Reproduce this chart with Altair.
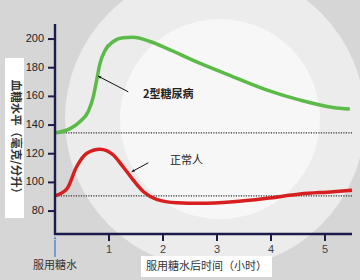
import altair as alt
import pandas as pd

# ---- data ----
green_t = [0, 0.28, 0.46, 0.62, 0.71, 0.77, 0.83, 0.93, 1.08, 1.26, 1.44, 1.76, 2.07, 2.69, 3.30, 3.93, 4.54, 5.15, 5.46]
green_v = [134.4, 137.5, 142.3, 149.8, 159.8, 171.0, 182.5, 192.3, 198.3, 200.9, 201.2, 198.3, 193.5, 183.0, 173.7, 164.4, 157.4, 152.3, 151.2]

red_t = [0, 0.22, 0.40, 0.59, 0.83, 1.08, 1.26, 1.45, 1.64, 1.88, 2.25, 2.69, 3.30, 3.92, 4.54, 5.15, 5.5]
red_v = [90.7, 95.5, 110.9, 120.3, 123.1, 119.1, 110.9, 101.6, 93.5, 88.2, 85.8, 85.4, 86.5, 88.9, 91.9, 93.5, 94.6]

baseline_values = [134.5, 90.6]
y_ticks = [80, 100, 120, 140, 160, 180, 200]
x_ticks = [1, 2, 3, 4, 5]

y_title = "血糖水平（毫克/分升）"
x_title = "服用糖水后时间（小时）"
x_start_label = "服用糖水"
label_diabetes = "2型糖尿病"
label_normal = "正常人"

# annotation anchors (data coordinates)
arrow_t = [1.357, 1.728]
arrow_v = [163.2, 113.7]
tip_t = [0.80, 1.42]
tip_v = [174.1, 107.4]
tip_angle = [297.6, 241.5]
ann_t = [1.63, 2.13]
ann_v = [160.9, 114.9]

# ---- build tables ----
green = pd.DataFrame({"t": green_t, "v": green_v})
red = pd.DataFrame({"t": red_t, "v": red_v})
base_df = pd.DataFrame({"v": baseline_values})
arrows = pd.DataFrame({"t": arrow_t, "v": arrow_v, "t2": tip_t, "v2": tip_v, "ang": tip_angle})
ytick_df = pd.DataFrame({"v": y_ticks})
xtick_df = pd.DataFrame({"t": x_ticks})

W, H = 297, 210
xs = alt.Scale(domain=[0, 5.5], nice=False, zero=False)
ys = alt.Scale(domain=[64, 210.5], nice=False, zero=False)
CJK = "Noto Sans CJK SC"
NUM = "Liberation Sans"
NAVY = "#1c1c4a"
HEAD = "M0,0 L0.45,1 L-0.45,1 Z"


def X(field):
    return alt.X(field, scale=xs, axis=None)


def Y(field):
    return alt.Y(field, scale=ys, axis=None)


one = pd.DataFrame({"a": [0]})

# soft light centre on a grey page (flat shapes, no gradient)
glow = alt.Chart(one).mark_point(shape="circle", filled=True, color="#ffffff", opacity=0.55,
                                 size=90000, strokeWidth=0).encode(
    x=alt.value(160), y=alt.value(95))
glow2 = alt.Chart(one).mark_point(shape="circle", filled=True, color="#ffffff", opacity=0.6,
                                  size=40000, strokeWidth=0).encode(
    x=alt.value(165), y=alt.value(95))

box_y = alt.Chart(one).mark_rect(fill="white", strokeWidth=0).encode(
    x=alt.value(-50), x2=alt.value(-31), y=alt.value(34), y2=alt.value(194))
box_x = alt.Chart(one).mark_rect(fill="white", strokeWidth=0).encode(
    x=alt.value(86), x2=alt.value(217), y=alt.value(232), y2=alt.value(253))

dotted = alt.Chart(base_df).mark_rule(color="#333", strokeWidth=1.2, strokeDash=[1.2, 1.3]).encode(
    y=Y("v:Q")
)

g_line = alt.Chart(green).mark_line(color="#5cba49", strokeWidth=3.5, interpolate="monotone").encode(
    x=X("t:Q"), y=Y("v:Q")
)
r_line = alt.Chart(red).mark_line(color="#d71f1f", strokeWidth=3.5, interpolate="monotone").encode(
    x=X("t:Q"), y=Y("v:Q")
)

# ---- hand-built axes (drawn through the same scales) ----
y_domain = alt.Chart(pd.DataFrame({"t": [0]})).mark_rule(color=NAVY, strokeWidth=2.4).encode(
    x=X("t:Q"), y=alt.value(0), y2=alt.value(211)
)
x_domain = alt.Chart(pd.DataFrame({"v": [64]})).mark_rule(color=NAVY, strokeWidth=2.4).encode(
    y=Y("v:Q"), x=alt.value(-1), x2=alt.value(297)
)
y_tick_marks = alt.Chart(ytick_df).mark_rule(color=NAVY, strokeWidth=2).encode(
    y=Y("v:Q"), x=alt.value(-7), x2=alt.value(0)
)
y_tick_labels = alt.Chart(ytick_df).mark_text(
    font=NUM, fontSize=11, color="#222", align="right", baseline="middle"
).encode(y=Y("v:Q"), x=alt.value(-11), text=alt.Text("v:Q", format="d"))
x_tick_marks = alt.Chart(xtick_df).mark_rule(color=NAVY, strokeWidth=2).encode(
    x=X("t:Q"), y=alt.value(210), y2=alt.value(217)
)
x_tick_labels = alt.Chart(xtick_df).mark_text(
    font=NUM, fontSize=11, color="#444", align="center", baseline="middle"
).encode(x=X("t:Q"), y=alt.value(226), text=alt.Text("t:Q", format="d"))

a_lines = alt.Chart(arrows).mark_rule(color="#111", strokeWidth=1).encode(
    x=X("t:Q"), y=Y("v:Q"), x2="t2:Q", y2="v2:Q"
)
a_heads = alt.Chart(arrows).mark_point(shape=HEAD, filled=True, color="#111", size=36, opacity=1).encode(
    x=X("t2:Q"), y=Y("v2:Q"), angle=alt.Angle("ang:Q", scale=None)
)

ann_bold = alt.Chart(pd.DataFrame({"t": ann_t[:1], "v": ann_v[:1], "s": [label_diabetes]})).mark_text(
    align="left", baseline="middle", font=CJK, fontSize=11, fontWeight="bold", color="#222"
).encode(x=X("t:Q"), y=Y("v:Q"), text="s:N")
ann_norm = alt.Chart(pd.DataFrame({"t": ann_t[1:], "v": ann_v[1:], "s": [label_normal]})).mark_text(
    align="left", baseline="middle", font=CJK, fontSize=11, color="#222"
).encode(x=X("t:Q"), y=Y("v:Q"), text="s:N")

blue_rule = alt.Chart(pd.DataFrame({"t": [0]})).mark_rule(color="#5b8fd4", strokeWidth=1.6).encode(
    x=X("t:Q"), y=alt.value(216), y2=alt.value(233)
)
blue_head = alt.Chart(pd.DataFrame({"t": [0]})).mark_point(shape=HEAD, filled=True, color="#5b8fd4",
                                                           size=40, opacity=1).encode(
    x=X("t:Q"), y=alt.value(212)
)

start_lbl = alt.Chart(pd.DataFrame({"t": [0], "s": [x_start_label]})).mark_text(
    font=CJK, fontSize=11, color="#333", baseline="middle", align="center"
).encode(x=X("t:Q"), y=alt.value(242), text="s:N")

x_title_mark = alt.Chart(pd.DataFrame({"s": [x_title]})).mark_text(
    font=CJK, fontSize=11, color="#333", baseline="middle", align="center"
).encode(x=alt.value(151.5), y=alt.value(242.5), text="s:N")

y_title_mark = alt.Chart(pd.DataFrame({"s": [y_title]})).mark_text(
    font=CJK, fontSize=11.5, fontWeight="bold", color="#333", baseline="middle", align="center", angle=90
).encode(x=alt.value(-40.5), y=alt.value(115.5), text="s:N")

chart = alt.layer(
    glow, glow2, box_y, box_x, dotted, g_line, r_line,
    y_domain, x_domain, y_tick_marks, y_tick_labels, x_tick_marks, x_tick_labels,
    a_lines, a_heads, ann_bold, ann_norm,
    blue_rule, blue_head, start_lbl, x_title_mark, y_title_mark
).properties(
    width=W, height=H,
    padding={"left": 55, "top": 24, "right": 8, "bottom": 46},
    autosize=alt.AutoSizeParams(type="none"),
    background="#d6d6d6",
).configure_view(stroke=None)

chart.save("out.html", embed_options={"renderer": "svg", "actions": False})
